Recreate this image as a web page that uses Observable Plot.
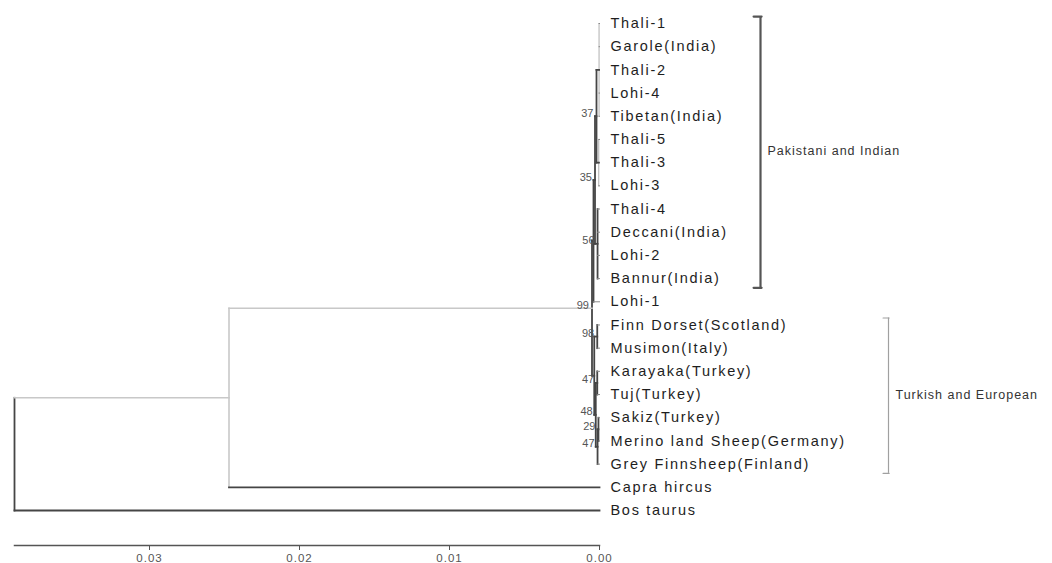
<!DOCTYPE html>
<html><head><meta charset="utf-8">
<script src="https://cdn.jsdelivr.net/npm/d3@7"></script>
<script src="https://cdn.jsdelivr.net/npm/@observablehq/plot@0.6"></script>
<style>body{margin:0;background:#fff}</style>
</head><body><div id="chart"></div>
<script>
// ---- data ----
const leafNames = ["Thali-1","Garole(India)","Thali-2","Lohi-4","Tibetan(India)","Thali-5","Thali-3","Lohi-3","Thali-4","Deccani(India)","Lohi-2","Bannur(India)","Lohi-1","Finn Dorset(Scotland)","Musimon(Italy)","Karayaka(Turkey)","Tuj(Turkey)","Sakiz(Turkey)","Merino land Sheep(Germany)","Grey Finnsheep(Finland)","Capra hircus","Bos taurus"];
const nodeNames = ["A","B","n56","n37","n35","pak","n29","n47b","n47a","n48","n98","eur","sheep","node2","root"];
const nodeChildren = [
  ["Thali-1","Garole(India)","Thali-2","Lohi-4","Tibetan(India)"],
  ["Thali-5","Thali-3","Lohi-3"],
  ["Thali-4","Deccani(India)","Lohi-2","Bannur(India)"],
  ["A","B"],
  ["n37","n56"],
  ["n35","Lohi-1"],
  ["Sakiz(Turkey)","Merino land Sheep(Germany)"],
  ["n29","Grey Finnsheep(Finland)"],
  ["Karayaka(Turkey)","Tuj(Turkey)"],
  ["n47a","n47b"],
  ["Finn Dorset(Scotland)","Musimon(Italy)"],
  ["n98","n48"],
  ["pak","eur"],
  ["sheep","Capra hircus"],
  ["node2","Bos taurus"]
];
const nodeHeights = [0.00003,0.00005,0.00013,0.0002,0.0003,0.0004,0.00007,0.00013,0.00015,0.00025,0.00015,0.00035,0.0005,0.0247,0.039];
const nodeSupport = [null,null,56,37,35,null,29,47,47,48,98,null,99,null,null];
const groupLabels = ["Pakistani and Indian","Turkish and European"];
const groupFirst = [0,13];
const groupLast = [11,19];
const axisTicks = [0.03,0.02,0.01,0.00];

// ---- layout from topology ----
const heightOf = new Map(), yOf = new Map();
leafNames.forEach((n,i)=>{heightOf.set(n,0); yOf.set(n,i);});
nodeNames.forEach((n,i)=>heightOf.set(n,nodeHeights[i]));
const childrenOf = new Map(nodeNames.map((n,i)=>[n,nodeChildren[i]]));
function yPos(n){ if(yOf.has(n)) return yOf.get(n); const c=childrenOf.get(n); const v=(yPos(c[0])+yPos(c[c.length-1]))/2; yOf.set(n,v); return v;}
nodeNames.forEach(yPos);
const segments=[];
nodeNames.forEach(n=>{
  const c=childrenOf.get(n), h=heightOf.get(n);
  segments.push({kind:"v",node:n,x1:h,x2:h,y1:yOf.get(c[0]),y2:yOf.get(c[c.length-1])});
  c.forEach(ch=>segments.push({kind:"h",node:ch,parent:n,x1:h,x2:heightOf.get(ch),y1:yOf.get(ch),y2:yOf.get(ch)}));
});
const lightSet = new Set(["v:node2","h:node2","h:sheep"]);
const paleSet = new Set(["v:A","v:B"]);
const isSheepTip = s => s.kind==="h" && heightOf.get(s.node)===0 && s.node!=="Capra hircus" && s.node!=="Bos taurus";
function strokeOf(s){
  const k=s.kind+":"+s.node;
  if(lightSet.has(k)) return "#c8c8c8";
  if(paleSet.has(k)) return "#b0b0b0";
  if(isSheepTip(s)) return "#8a8a8a";
  return "#454545";
}
function widthOf(s){
  const k=s.kind+":"+s.node;
  if(lightSet.has(k)) return 1.6;
  if(paleSet.has(k)) return 1;
  if(isSheepTip(s)) return 1;
  return 1.8;
}
const supportNodes = nodeNames.map((n,i)=>({n,h:nodeHeights[i],y:yOf.get(n),s:nodeSupport[i]})).filter(d=>d.s!=null);
const groups = groupLabels.map((g,i)=>({label:g,first:groupFirst[i],last:groupLast[i]}));
const tickShape = {draw(ctx,l){ctx.moveTo(0,0);ctx.lineTo(0,-l);}};

function bracketMarks(g, dx, stroke, sw, tlen){
  return [
    Plot.ruleX([g],{x:()=>0,y1:d=>d.first-0.3,y2:d=>d.last+0.4,dx,stroke,strokeWidth:sw}),
    Plot.vector([g,g],{x:()=>0,y:(d,i)=>i===0?d.first-0.3:d.last+0.4,length:tlen,rotate:-90,anchor:"start",dx:dx+sw/2,shape:tickShape,stroke,strokeWidth:sw}),
    Plot.text([g],{x:()=>0,y:d=>(d.first+d.last)/2,text:d=>d.label,textAnchor:"start",dx:dx+7,fontSize:12.5,fill:"#333"})
  ];
}

const chart = Plot.plot({
  width:1052, height:563,
  marginLeft:14, marginRight:453, marginTop:10, marginBottom:18,
  style:{fontFamily:"'Liberation Sans', Arial, sans-serif", background:"#fff"},
  x:{domain:[0.039,0], range:[14,599]},
  y:{domain:[0,21], range:[23,510], axis:null},
  marks:[
    Plot.frame({anchor:"bottom", stroke:"#555", strokeWidth:1.5}),
    Plot.axisX({ticks:axisTicks, tickFormat:d3.format(".2f"), tickSize:5, tickPadding:3, fontSize:11.5, color:"#555", label:null}),
    Plot.link(segments,{x1:"x1",y1:"y1",x2:"x2",y2:"y2",stroke:strokeOf,strokeWidth:widthOf,strokeLinecap:"square"}),
    Plot.text(leafNames,{x:()=>0,y:(d,i)=>i,text:d=>d,textAnchor:"start",dx:11,fontSize:14.5,fill:"#1e1e1e"}),
    Plot.text(supportNodes,{x:"h",y:"y",text:"s",textAnchor:"end",dx:-3,dy:-3,fontSize:11,fill:"#555"}),
    ...bracketMarks(groups[0],161,"#555",2.2,8),
    ...bracketMarks(groups[1],289,"#a0a0a0",1.2,6)
  ]
});
document.getElementById("chart").appendChild(chart);
d3.select(chart).selectAll('g[font-size="14.5"]').style("letter-spacing","1.7px");
d3.select(chart).selectAll('g[font-size="12.5"]').style("letter-spacing","1px");
d3.select(chart).selectAll('g[aria-label="x-axis tick label"]').style("letter-spacing","1px");
</script>
</body></html>
